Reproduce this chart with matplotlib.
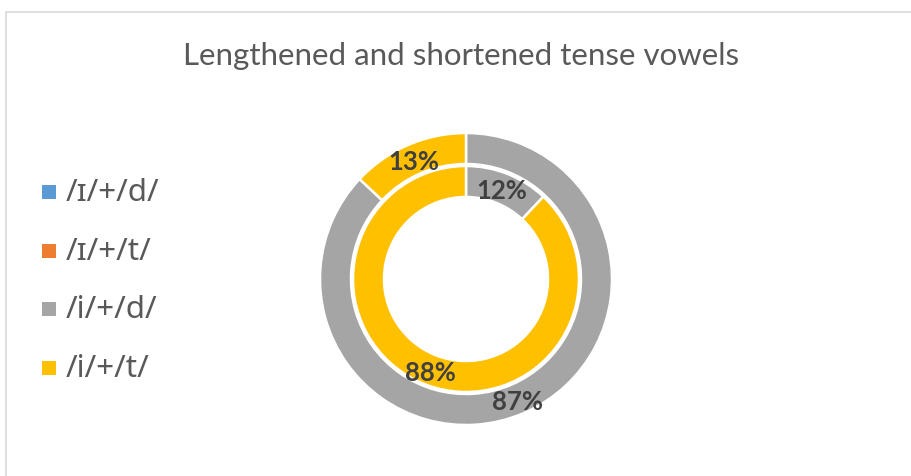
import matplotlib
matplotlib.use("Agg")
import matplotlib.pyplot as plt
from matplotlib.patches import Rectangle
import numpy as np

title = "Lengthened and shortened tense vowels"
categories = ["/ɪ/+/d/", "/ɪ/+/t/", "/i/+/d/", "/i/+/t/"]
colors = ["#5B9BD5", "#ED7D31", "#A5A5A5", "#FFC000"]
# percentages per series (inner ring drawn first, outer ring second)
inner_values = [0, 0, 12, 88]
outer_values = [0, 0, 87, 13]

W, H = 912, 477
fig = plt.figure(figsize=(W / 100, H / 100), dpi=100)
fig.patch.set_facecolor("white")

FONT = ["Lato", "DejaVu Sans"]
LEGEND_FONT = ["Noto Sans", "DejaVu Sans"]

# chart area border (extends past right/bottom edges)
fig.patches.append(Rectangle((6 / W, -0.1), 1.2, (H - 13) / H + 0.1,
                             transform=fig.transFigure, fill=False,
                             edgecolor="#D9D9D9", linewidth=1.2))

# axes square centred on the doughnut
cx, cy, half = 466, 280, 150
ax = fig.add_axes([(cx - half) / W, (H - cy - half) / H, 2 * half / W, 2 * half / H])

ring_w = 0.31
rings = [(inner_values, 1.13), (outer_values, 1.46)]
for vals, rad in rings:
    wedges, _ = ax.pie(vals, radius=rad, colors=colors, startangle=90,
                       counterclock=False,
                       wedgeprops=dict(width=ring_w, edgecolor="white", linewidth=1.8))
    total = sum(vals)
    for w, v in zip(wedges, vals):
        if v <= 0:
            continue
        ang = np.deg2rad((w.theta1 + w.theta2) / 2)
        r = rad - ring_w / 2
        ax.text(r * np.cos(ang), r * np.sin(ang) - 0.02, f"{round(100 * v / total)}%",
                ha="center", va="center", fontsize=18.5, fontweight="bold",
                color="#404040", family=FONT)

ax.set_xlim(-1.5, 1.5)
ax.set_ylim(-1.5, 1.5)
ax.set_aspect("equal")
ax.axis("off")

# title
fig.text(461 / W, 1 - 56 / H, title, ha="center", va="center",
         fontsize=22.5, color="#595959", family=FONT)

# legend
row_y = [193, 252, 310, 369]
for lab, col, y in zip(categories, colors, row_y):
    fig.patches.append(Rectangle((42 / W, 1 - (y + 7) / H), 14 / W, 14 / H,
                                 transform=fig.transFigure, facecolor=col,
                                 edgecolor="none"))
    fig.text(66 / W, 1 - y / H, lab, ha="left", va="center",
             fontsize=22.5, color="#595959", family=LEGEND_FONT)

fig.savefig("out.png", dpi=100, facecolor="white")
